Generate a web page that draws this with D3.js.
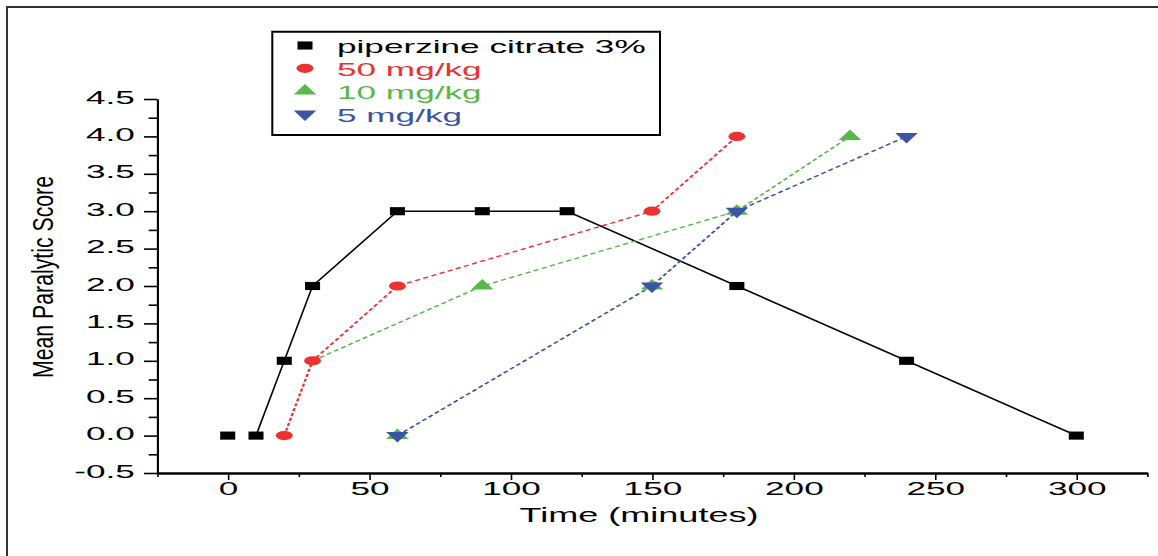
<!DOCTYPE html>
<html>
<head>
<meta charset="utf-8">
<script src="https://cdn.jsdelivr.net/npm/d3@7/dist/d3.min.js"></script>
<style>
  html, body { margin: 0; padding: 0; background: #fff; }
  svg { display: block; font-family: "Liberation Sans", Arial, sans-serif; }
</style>
</head>
<body>
<svg id="chart" width="1158" height="556"></svg>
<script>
// ---------- data ----------
const seriesNames = ["piperzine citrate 3%", "50 mg/kg", "10 mg/kg", "5 mg/kg"];
const seriesColors = ["#000000", "#EC3131", "#58B84A", "#3B55A5"];

// piperzine citrate 3%
const pipX = [0, 10, 20, 30, 60, 90, 120, 180, 240, 300];
const pipY = [0, 0, 1, 2, 3, 3, 3, 2, 1, 0];
const pipLineStart = 1; // line begins at the second point

// 50 mg/kg
const mg50X = [20, 30, 60, 150, 180];
const mg50Y = [0, 1, 2, 3, 4];

// 10 mg/kg (markers and connecting line as drawn)
const mg10X = [60, 90, 150, 180, 220];
const mg10Y = [0, 2, 2, 3, 4];
const mg10LineX = [30, 90, 180, 220];
const mg10LineY = [1, 2, 3, 4];

// 5 mg/kg
const mg5X = [60, 150, 180, 240];
const mg5Y = [0, 2, 3, 4];

// ticks
const xTicks = [0, 50, 100, 150, 200, 250, 300];
const xMinorTicks = [-25, 25, 75, 125, 175, 225, 275, 325];
const yTicks = [-0.5, 0, 0.5, 1, 1.5, 2, 2.5, 3, 3.5, 4, 4.5];
const yMinorTicks = [-0.25, 0.25, 0.75, 1.25, 1.75, 2.25, 2.75, 3.25, 3.75, 4.25];

// ---------- layout ----------
const SX = 1.85; // the figure is horizontally stretched
const svg = d3.select("#chart");
svg.append("rect").attr("width", 1158).attr("height", 556).attr("fill", "#fff");
svg.append("path").attr("d", "M7,556V7H1158")
  .attr("fill", "none").attr("stroke", "#333").attr("stroke-width", 2);

const g = svg.append("g").attr("transform", `scale(${SX},1)`);

const x = d3.scaleLinear().domain([-25, 325]).range([157 / SX, 1147 / SX]);
const y = d3.scaleLinear().domain([-0.5, 4.5]).range([473, 99]);

// axes
function styleAxis(sel, fs) {
  sel.attr("font-family", "Liberation Sans, Arial, sans-serif").attr("font-size", fs);
  sel.selectAll("path, line").attr("stroke", "#000").attr("vector-effect", "non-scaling-stroke");
  sel.select(".domain").attr("stroke-width", 2);
  sel.selectAll(".tick line").attr("stroke-width", 1.6);
  sel.selectAll("text").attr("fill", "#000");
}

g.append("g").attr("transform", `translate(0,${y(-0.5)})`)
  .call(d3.axisBottom(x).tickValues(xMinorTicks).tickSize(4).tickSizeOuter(0).tickFormat(""))
  .call(s => styleAxis(s, 19));
g.append("g").attr("transform", `translate(0,${y(-0.5)})`)
  .call(d3.axisBottom(x).tickValues(xTicks).tickSize(7).tickSizeOuter(0).tickPadding(2).tickFormat(d => String(d)))
  .call(s => styleAxis(s, 19));

g.append("g").attr("transform", `translate(${x(-25)},0)`)
  .call(d3.axisLeft(y).tickValues(yMinorTicks).tickSize(4.5).tickSizeOuter(0).tickFormat(""))
  .call(s => styleAxis(s, 19));
g.append("g").attr("transform", `translate(${x(-25)},0)`)
  .call(d3.axisLeft(y).tickValues(yTicks).tickSize(7).tickSizeOuter(0).tickPadding(5).tickFormat(d => d.toFixed(1)))
  .call(s => styleAxis(s, 19))
  .call(s => s.selectAll("text").attr("dy", "0.22em"));

// axis titles
g.append("text")
  .attr("transform", `translate(${53 / SX},277) rotate(-90)`)
  .attr("text-anchor", "middle")
  .attr("font-size", 16)
  .attr("textLength", 202).attr("lengthAdjust", "spacingAndGlyphs")
  .attr("fill", "#000")
  .text("Mean Paralytic Score");

g.append("text")
  .attr("x", 639 / SX).attr("y", 522)
  .attr("text-anchor", "middle")
  .attr("font-size", 19.5)
  .attr("fill", "#000")
  .text("Time (minutes)");

// ---------- series ----------
const line = d3.line().x(d => x(d[0])).y(d => y(d[1]));
const zip = (a, b) => a.map((v, i) => [v, b[i]]);

const symSquare = d3.symbol().type(d3.symbolSquare).size(66);
const symCircle = d3.symbol().type(d3.symbolCircle).size(66);
const symTri = d3.symbol().type(d3.symbolTriangle).size(64);

function drawLine(pts, color, dashed) {
  const p = g.append("path").datum(pts).attr("d", line)
    .attr("fill", "none").attr("stroke", color);
  if (dashed) {
    p.attr("stroke-width", 1.3).attr("stroke-dasharray", "3 2");
  } else {
    p.attr("stroke-width", 1.6).attr("vector-effect", "non-scaling-stroke");
  }
}
function drawMarkers(pts, color, sym, rot) {
  g.append("g").selectAll("path").data(pts).join("path")
    .attr("d", sym())
    .attr("transform", d => `translate(${x(d[0])},${y(d[1])})${rot ? " rotate(180)" : ""}`)
    .attr("fill", color);
}

// piperzine
drawLine(zip(pipX, pipY).slice(pipLineStart), seriesColors[0], false);
drawMarkers(zip(pipX, pipY), seriesColors[0], symSquare, false);
// 10 mg/kg
drawLine(zip(mg10LineX, mg10LineY), seriesColors[2], true);
drawMarkers(zip(mg10X, mg10Y), seriesColors[2], symTri, false);
// 50 mg/kg
drawLine(zip(mg50X, mg50Y), seriesColors[1], true);
drawMarkers(zip(mg50X, mg50Y), seriesColors[1], symCircle, false);
// 5 mg/kg
drawLine(zip(mg5X, mg5Y), seriesColors[3], true);
drawMarkers(zip(mg5X, mg5Y), seriesColors[3], symTri, true);

// ---------- legend ----------
const lg = g.append("g");
lg.append("rect")
  .attr("x", 272.3 / SX).attr("y", 31.7)
  .attr("width", (660 - 272.3) / SX).attr("height", 135 - 31.7)
  .attr("fill", "#fff").attr("stroke", "#000").attr("stroke-width", 2)
  .attr("vector-effect", "non-scaling-stroke");
const legendSyms = [symSquare, symCircle, symTri, symTri];
const legendRot = [false, false, false, true];
seriesNames.forEach((name, i) => {
  const by = 53.5 + i * 22.8;
  lg.append("path")
    .attr("d", legendSyms[i]())
    .attr("transform", `translate(${305 / SX},${by - 8})${legendRot[i] ? " rotate(180)" : ""}`)
    .attr("fill", seriesColors[i]);
  lg.append("text")
    .attr("x", 337 / SX).attr("y", by)
    .attr("font-size", 19)
    .attr("fill", seriesColors[i])
    .text(name);
});
</script>
</body>
</html>
